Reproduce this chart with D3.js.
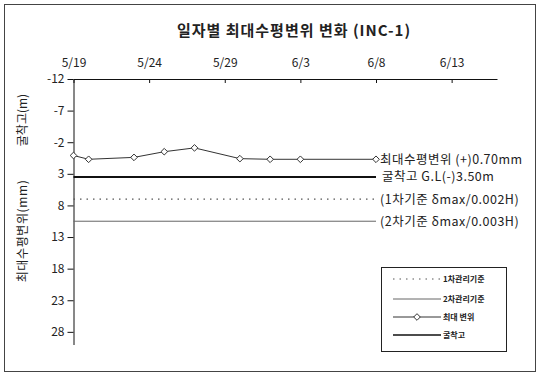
<!DOCTYPE html>
<html><head><meta charset="utf-8">
<script src="https://cdn.jsdelivr.net/npm/d3@7"></script>
<style>
html,body{margin:0;padding:0;background:#fff;}
svg text{font-family:"Noto Sans CJK KR","Liberation Sans",sans-serif;fill:#222;}
</style></head>
<body><svg id="c" width="540" height="374"></svg>
<script>
const title = "일자별 최대수평변위 변화 (INC-1)";
const dates = ["2000-05-19","2000-05-20","2000-05-23","2000-05-25","2000-05-27","2000-05-30","2000-06-01","2000-06-03","2000-06-08"];
const maxDisp = [0.1, 0.7, 0.4, -0.5, -1.1, 0.6, 0.7, 0.7, 0.7];
const groundLevel = 3.5;
const limit1 = 7.0;
const limit2 = 10.5;
const xTicks = ["2000-05-19","2000-05-24","2000-05-29","2000-06-03","2000-06-08","2000-06-13"];
const xDomain = ["2000-05-19","2000-06-16"];
const yTicks = [-12,-7,-2,3,8,13,18,23,28];
const yDomain = [-12, 30];
const endLabels = ["최대수평변위 (+)0.70mm","굴착고 G.L(-)3.50m","(1차기준 δmax/0.002H)","(2차기준 δmax/0.003H)"];
const legendLabels = ["1차관리기준","2차관리기준","최대 변위","굴착고"];
const yTitles = ["굴착고(m)","최대수평변위(mm)"];

const parse = d3.timeParse("%Y-%m-%d");
const svg = d3.select("#c");
const x = d3.scaleTime().domain(xDomain.map(parse)).range([73.5, 497]);
const y = d3.scaleLinear().domain(yDomain).range([79, 344.5]);

// outer frame
svg.append("rect").attr("x",4.5).attr("y",4.5).attr("width",531).attr("height",367)
  .attr("fill","none").attr("stroke","#444").attr("stroke-width",1);

// title
svg.append("text").attr("x",294).attr("y",36).attr("text-anchor","middle")
  .style("font-size","15px").style("font-weight","bold").style("letter-spacing","1px").text(title);

// x axis (top)
const xAxis = d3.axisTop(x).tickValues(xTicks.map(parse)).tickFormat(d3.timeFormat("%-m/%-d"))
  .tickSizeInner(-4).tickSizeOuter(0).tickPadding(12);
const gx = svg.append("g").attr("transform",`translate(0,${y(yDomain[0])})`).call(xAxis);
gx.selectAll("text").style("font-size","12px").attr("fill","#222");
gx.select(".domain").attr("stroke","#111");
gx.selectAll(".tick line").attr("stroke","#111");

// y axis
const yAxis = d3.axisLeft(y).tickValues(yTicks).tickFormat(d => String(d)).tickSizeInner(6).tickSizeOuter(0).tickPadding(3);
const gy = svg.append("g").attr("transform",`translate(${x(parse(xDomain[0]))},0)`).call(yAxis);
gy.selectAll("text").style("font-size","12px").attr("fill","#222");
gy.select(".domain").attr("stroke","#111");
gy.selectAll(".tick line").attr("stroke","#111");

// y titles
svg.append("text").attr("transform","translate(27,120) rotate(-90)").attr("text-anchor","middle")
  .style("font-size","12px").text(yTitles[0]);
svg.append("text").attr("transform","translate(27,231) rotate(-90)").attr("text-anchor","middle")
  .style("font-size","12px").style("letter-spacing","0.6px").text(yTitles[1]);

const x0 = parse(dates[0]), x1 = parse(dates[dates.length-1]);

// limit lines
svg.append("line").attr("x1",x(x0)).attr("x2",x(x1)).attr("y1",y(limit1)).attr("y2",y(limit1))
  .attr("stroke","#555").attr("stroke-width",1.2).attr("stroke-dasharray","1.5,5");
svg.append("line").attr("x1",x(x0)).attr("x2",x(x1)).attr("y1",y(limit2)).attr("y2",y(limit2))
  .attr("stroke","#666").attr("stroke-width",1);
// ground level
svg.append("line").attr("x1",x(x0)).attr("x2",x(x1)).attr("y1",y(groundLevel)).attr("y2",y(groundLevel))
  .attr("stroke","#111").attr("stroke-width",2);

// max displacement series
const pts = dates.map((d,i)=>({d:parse(d), v:maxDisp[i]}));
svg.append("path").datum(pts).attr("fill","none").attr("stroke","#333").attr("stroke-width",1)
  .attr("d", d3.line().x(p=>x(p.d)).y(p=>y(p.v)));
const diamond = d3.symbol().type(d3.symbolDiamond2).size(28);
svg.selectAll(".pt").data(pts).join("path").attr("class","pt")
  .attr("transform",p=>`translate(${x(p.d)},${y(p.v)})`)
  .attr("d",diamond).attr("fill","#fff").attr("stroke","#333").attr("stroke-width",1);

// end labels
const ex = x(x1) + 4;
const endYs = [maxDisp[maxDisp.length-1], groundLevel, limit1, limit2];
endLabels.forEach((t,i)=>{
  svg.append("text").attr("x",ex + (i===1?2:0)).attr("y",y(endYs[i])).attr("dy","0.36em")
    .style("font-size","12.5px").style("letter-spacing","0.5px").text(t);
});

// legend
const lg = svg.append("g");
lg.append("rect").attr("x",381.5).attr("y",267.5).attr("width",125).attr("height",84)
  .attr("fill","#fff").attr("stroke","#222").attr("stroke-width",1);
const ly = [279, 299, 317, 335];
const lx0 = 393, lx1 = 441;
lg.append("line").attr("x1",lx0).attr("x2",lx1).attr("y1",ly[0]).attr("y2",ly[0])
  .attr("stroke","#555").attr("stroke-width",1).attr("stroke-dasharray","1.5,5");
lg.append("line").attr("x1",lx0).attr("x2",lx1).attr("y1",ly[1]).attr("y2",ly[1])
  .attr("stroke","#666").attr("stroke-width",1);
lg.append("line").attr("x1",lx0).attr("x2",lx1).attr("y1",ly[2]).attr("y2",ly[2])
  .attr("stroke","#333").attr("stroke-width",1);
lg.append("path").attr("transform",`translate(${(lx0+lx1)/2},${ly[2]})`).attr("d",diamond)
  .attr("fill","#fff").attr("stroke","#333");
lg.append("line").attr("x1",lx0).attr("x2",lx1).attr("y1",ly[3]).attr("y2",ly[3])
  .attr("stroke","#111").attr("stroke-width",1.6);
legendLabels.forEach((t,i)=>{
  lg.append("text").attr("x",lx1+2).attr("y",ly[i]).attr("dy","0.35em")
    .style("font-size","8px").style("font-weight","bold").text(t);
});
</script></body></html>
